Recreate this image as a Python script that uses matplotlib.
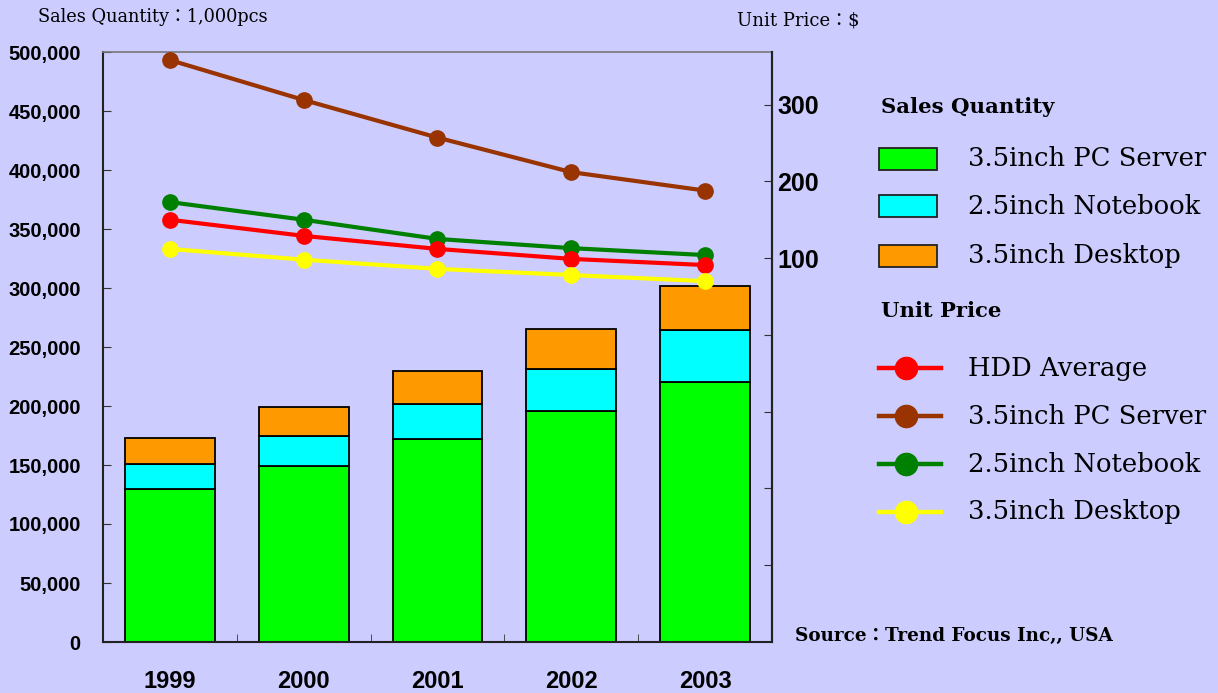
import matplotlib
matplotlib.use("Agg")
import matplotlib.pyplot as plt
from matplotlib.patches import Rectangle
from matplotlib.lines import Line2D
import numpy as np

years = ["1999", "2000", "2001", "2002", "2003"]
qty_server = [130000, 149000, 172000, 196000, 220000]
qty_notebook = [21000, 26000, 30000, 35000, 44000]
qty_desktop = [22000, 24000, 28000, 34000, 38000]

price_avg = [150, 129, 112, 99, 91]
price_server = [358, 306, 257, 212, 188]
price_notebook = [173, 150, 125, 113, 104]
price_desktop = [112, 98, 86, 78, 70]

BG = "#CCCCFF"
W, H = 1218, 693
fig = plt.figure(figsize=(W / 100, H / 100), dpi=100, facecolor=BG)

def fx(px):
    return px / W

def fy(py):
    return 1 - py / H

ax = fig.add_axes([fx(103), fy(642), fx(772) - fx(103), fy(52) - fy(642)])
ax.set_facecolor(BG)
x = np.arange(len(years))
bw = 0.67
ec = "black"
ax.bar(x, qty_server, bw, color="#00FF00", edgecolor=ec, linewidth=1.3, zorder=2)
b2 = np.array(qty_server)
ax.bar(x, qty_notebook, bw, bottom=b2, color="#00FFFF", edgecolor=ec, linewidth=1.3, zorder=2)
b3 = b2 + np.array(qty_notebook)
ax.bar(x, qty_desktop, bw, bottom=b3, color="#FF9900", edgecolor=ec, linewidth=1.3, zorder=2)

ax.set_xlim(-0.5, 4.5)
ax.set_ylim(0, 500000)
ax.set_yticks(np.arange(0, 500001, 50000))
ax.set_yticklabels([f"{v:,}" for v in range(0, 500001, 50000)],
                   fontfamily="Liberation Sans", fontweight="bold", fontsize=14.5)
ax.tick_params(axis="y", direction="in", length=6, pad=16, color="#333333")
ax.set_xticks(x)
ax.set_xticklabels(years, fontfamily="Liberation Sans", fontweight="bold", fontsize=17)
ax.tick_params(axis="x", which="major", length=0, pad=20)
ax.set_xticks(np.arange(0.5, 4.5, 1), minor=True)
ax.tick_params(axis="x", which="minor", direction="in", length=6, color="#333333")
for s in ["left", "bottom", "right"]:
    ax.spines[s].set_color("#222222")
    ax.spines[s].set_linewidth(1.5)
ax.spines["top"].set_color("#777777")
ax.spines["top"].set_linewidth(1.2)

ax2 = ax.twinx()
ax2.set_ylim(-400, 368.5)
ax2.set_yticks([-300, -200, -100, 0, 100, 200, 300])
ax2.set_yticklabels(["", "", "", "", "100", "200", "300"],
                    fontfamily="Liberation Sans", fontweight="bold", fontsize=18)
ax2.tick_params(axis="y", direction="in", length=6, pad=4, color="#333333")
ax2.spines["right"].set_color("#222222")
ax2.spines["right"].set_linewidth(1.5)
for s in ["left", "bottom", "top"]:
    ax2.spines[s].set_visible(False)

lines = [
    (price_server, "#993300", "3.5inch PC Server"),
    (price_notebook, "#008000", "2.5inch Notebook"),
    (price_avg, "#FF0000", "HDD Average"),
    (price_desktop, "#FFFF00", "3.5inch Desktop"),
]
for vals, col, lab in lines:
    ax2.plot(x, vals, color=col, linewidth=3, marker="o", markersize=11, zorder=3)

serif = ["DejaVu Serif", "Noto Sans CJK JP"]
fig.text(fx(38), fy(17), "Sales Quantity：1,000pcs", family=serif, fontsize=12.8, va="center", ha="left")
fig.text(fx(737), fy(20), "Unit Price：$", family=serif, fontsize=13, va="center", ha="left")
fig.text(fx(795), fy(636), "Source：Trend Focus Inc,, USA", family=serif, fontsize=13.2,
         fontweight="bold", va="center", ha="left")

# legend (drawn as key)
fig.text(fx(881), fy(107), "Sales Quantity", family=serif, fontsize=15.3, fontweight="bold",
         va="center", ha="left")
bar_keys = [("#00FF00", "3.5inch PC Server", 159), ("#00FFFF", "2.5inch Notebook", 206),
            ("#FF9900", "3.5inch Desktop", 256)]
for col, lab, yy in bar_keys:
    fig.add_artist(Rectangle((fx(879), fy(yy + 11)), fx(58), fy(0) - fy(22),
                             transform=fig.transFigure, facecolor=col, edgecolor="#222222", linewidth=1.3))
    fig.text(fx(968), fy(yy), lab, family=serif, fontsize=18.6, va="center", ha="left")
fig.text(fx(881), fy(311), "Unit Price", family=serif, fontsize=15.2, fontweight="bold",
         va="center", ha="left")
line_keys = [("#FF0000", "HDD Average", 368), ("#993300", "3.5inch PC Server", 416),
             ("#008000", "2.5inch Notebook", 464), ("#FFFF00", "3.5inch Desktop", 512)]
for col, lab, yy in line_keys:
    fig.add_artist(Line2D([fx(879), fx(941)], [fy(yy), fy(yy)], transform=fig.transFigure,
                          color=col, linewidth=3.2))
    fig.add_artist(Line2D([fx(906)], [fy(yy)], transform=fig.transFigure, color=col,
                          marker="o", markersize=16, linestyle="none"))
    fig.text(fx(968), fy(yy), lab, family=serif, fontsize=18.6, va="center", ha="left")

fig.savefig("out.png", dpi=100, facecolor=BG)
